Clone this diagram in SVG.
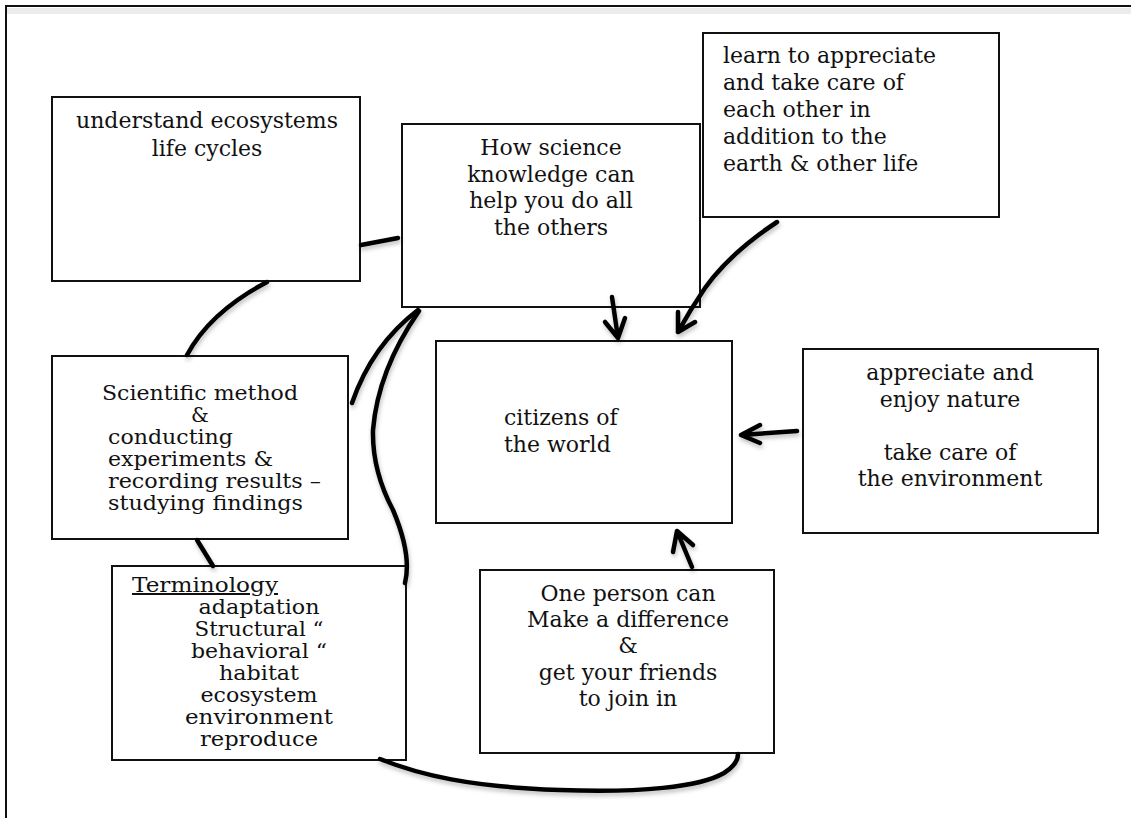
<svg xmlns="http://www.w3.org/2000/svg" width="1131" height="818" viewBox="0 0 1131 818">
<defs>
<style>
.box{fill:#fff;stroke:#111;stroke-width:2}
.t{font-family:"DejaVu Serif","Liberation Serif",serif;font-size:22px;fill:#111}
.s{font-size:20px}
.c{text-anchor:middle}
.con{fill:none;stroke:#000;stroke-width:4.5;stroke-linecap:round;stroke-linejoin:round}
</style>
<filter id="sh" x="-10%" y="-10%" width="120%" height="130%">
<feDropShadow dx="1" dy="3" stdDeviation="2" flood-color="#000" flood-opacity="0.25"/>
</filter>
</defs>
<rect width="1131" height="818" fill="#fff"/>
<g id="frame">
<rect x="6" y="8" width="1200" height="6" fill="#ececec"/>
<rect x="6" y="6" width="1200" height="900" fill="none" stroke="#111" stroke-width="2"/>
</g>

<g id="n-ecosystems">
<rect class="box" x="52" y="97" width="308" height="184"/>
<text class="t c" x="207" y="128">understand ecosystems</text>
<text class="t c" x="207" y="156">life cycles</text>
</g>

<g id="n-science">
<rect class="box" x="402" y="124" width="298" height="183"/>
<text class="t c" x="551" y="155">How science</text>
<text class="t c" x="551" y="182">knowledge can</text>
<text class="t c" x="551" y="208">help you do all</text>
<text class="t c" x="551" y="235">the others</text>
</g>

<g id="n-learn">
<rect class="box" x="703" y="33" width="296" height="184"/>
<text class="t" x="723" y="63">learn to appreciate</text>
<text class="t" x="723" y="90">and take care of</text>
<text class="t" x="723" y="117">each other in</text>
<text class="t" x="723" y="144">addition to the</text>
<text class="t" x="723" y="171">earth &amp; other life</text>
</g>

<g id="n-method">
<rect class="box" x="52" y="356" width="296" height="183"/>
<text class="t s" x="102" y="400" textLength="196" lengthAdjust="spacingAndGlyphs">Scientific method</text>
<text class="t s c" x="200" y="422">&amp;</text>
<text class="t s" x="108" y="444" textLength="125" lengthAdjust="spacingAndGlyphs">conducting</text>
<text class="t s" x="108" y="466" textLength="165" lengthAdjust="spacingAndGlyphs">experiments &amp;</text>
<text class="t s" x="108" y="488" textLength="213" lengthAdjust="spacingAndGlyphs">recording results –</text>
<text class="t s" x="108" y="510" textLength="195" lengthAdjust="spacingAndGlyphs">studying findings</text>
</g>

<g id="n-citizens">
<rect class="box" x="436" y="341" width="296" height="182"/>
<text class="t" x="504" y="425">citizens of</text>
<text class="t" x="504" y="452">the world</text>
</g>

<g id="n-nature">
<rect class="box" x="803" y="349" width="295" height="184"/>
<text class="t c" x="950" y="380">appreciate and</text>
<text class="t c" x="950" y="407">enjoy nature</text>
<text class="t c" x="950" y="460">take care of</text>
<text class="t c" x="950" y="486">the environment</text>
</g>

<g id="n-terminology">
<rect class="box" x="112" y="566" width="294" height="194"/>
<text class="t s" x="132" y="592" textLength="146" lengthAdjust="spacingAndGlyphs" style="text-decoration:underline">Terminology</text>
<text class="t s c" x="259" y="614" textLength="121" lengthAdjust="spacingAndGlyphs">adaptation</text>
<text class="t s c" x="259" y="636" textLength="129" lengthAdjust="spacingAndGlyphs">Structural “</text>
<text class="t s c" x="259" y="658" textLength="136" lengthAdjust="spacingAndGlyphs">behavioral “</text>
<text class="t s c" x="259" y="680" textLength="80" lengthAdjust="spacingAndGlyphs">habitat</text>
<text class="t s c" x="259" y="702" textLength="117" lengthAdjust="spacingAndGlyphs">ecosystem</text>
<text class="t s c" x="259" y="724" textLength="148" lengthAdjust="spacingAndGlyphs">environment</text>
<text class="t s c" x="259" y="746" textLength="118" lengthAdjust="spacingAndGlyphs">reproduce</text>
</g>

<g id="n-oneperson">
<rect class="box" x="480" y="570" width="294" height="183"/>
<text class="t c" x="628" y="601">One person can</text>
<text class="t c" x="628" y="627">Make a difference</text>
<text class="t c" x="628" y="653">&amp;</text>
<text class="t c" x="628" y="680">get your friends</text>
<text class="t c" x="628" y="706">to join in</text>
</g>

<g id="connectors" filter="url(#sh)">
<path class="con" d="M361,245 L398,238"/>
<path class="con" d="M267,282 Q210,312 187,355"/>
<path class="con" d="M197,540 L213,566"/>
<path class="con" d="M418,310 Q372,345 352,403"/>
<path class="con" d="M419,311 Q378,370 373,430 Q372,470 393,510 Q412,555 405,583"/>
<path class="con" d="M612,297 L618,338 M605,322 L618,338 L625,318"/>
<path class="con" d="M777,222 Q730,253 705,288 Q690,310 678,332 M678,312 L678,332 L695,322"/>
<path class="con" d="M797,431 L741,435 M760,425 L741,435 L760,443"/>
<path class="con" d="M692,567 L677,531 M673,552 L677,531 L693,545"/>
<path class="con" d="M380,759 C420,775 470,787 560,790 C640,793 700,787 724,773 C735,766 738,759 738,754"/>
</g>
</svg>
